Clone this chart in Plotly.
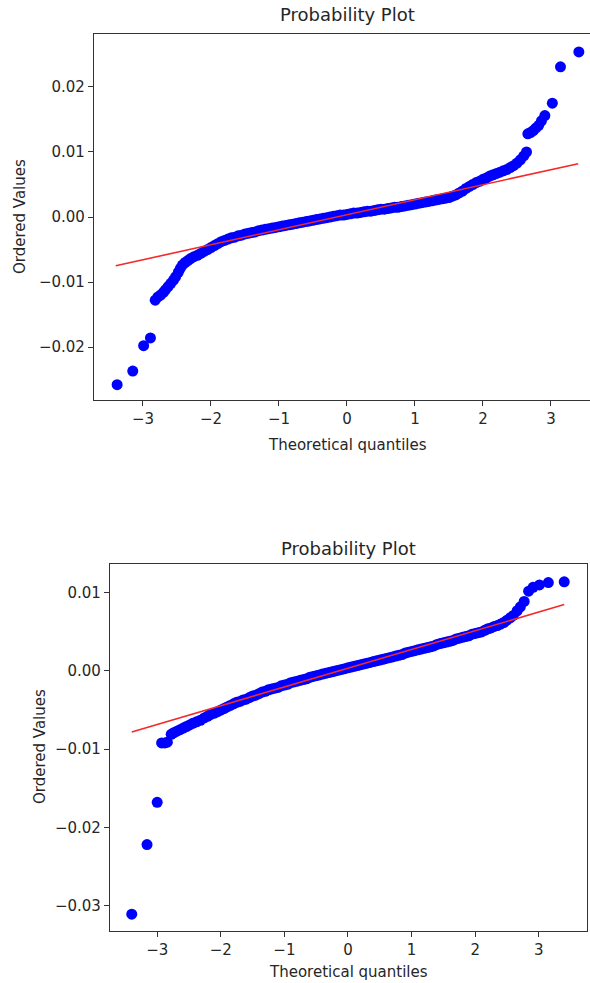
import plotly.graph_objects as go

# ---------------- data: top probability plot ----------------
top_q = [-3.38, -3.15, -2.99, -2.89,
         -2.82, -2.78, -2.74, -2.70, -2.67, -2.63, -2.59, -2.55, -2.52, -2.48,
         -2.45, -2.42, -2.38, -2.34, -2.30, -2.25, -2.20, -2.15, -2.10, -2.05,
         -2.00, -1.95, -1.90, -1.85, -1.80, -1.75, -1.70, -1.65, -1.60, -1.55,
         -1.50, -1.45, -1.40, -1.35, -1.30, -1.25, -1.20, -1.15, -1.10, -1.05,
         -1.00, -0.95, -0.90, -0.85, -0.80, -0.75, -0.70, -0.65, -0.60, -0.55,
         -0.50, -0.45, -0.40, -0.35, -0.30, -0.25, -0.20, -0.15, -0.10, -0.05,
         0.00, 0.05, 0.10, 0.15, 0.20, 0.25, 0.30, 0.35, 0.40, 0.45,
         0.50, 0.55, 0.60, 0.65, 0.70, 0.75, 0.80, 0.85, 0.90, 0.95,
         1.00, 1.05, 1.10, 1.15, 1.20, 1.25, 1.30, 1.35, 1.40, 1.45,
         1.50, 1.55, 1.60, 1.65, 1.70, 1.75, 1.80, 1.85, 1.90, 1.95,
         2.00, 2.05, 2.10, 2.15, 2.20, 2.25, 2.30, 2.35, 2.40, 2.45,
         2.50, 2.55, 2.60, 2.64,
         2.66, 2.70, 2.74, 2.78, 2.82, 2.86, 2.91, 3.02, 3.14, 3.41]
top_v = [-0.0258, -0.0237, -0.0198, -0.0186,
         -0.0128, -0.0123, -0.0120, -0.0116, -0.0112, -0.0107, -0.0102, -0.0097, -0.0092, -0.0085,
         -0.0079, -0.0074, -0.0070, -0.0067, -0.0064, -0.0061, -0.0059, -0.0056, -0.0053, -0.0050,
         -0.0047, -0.0044, -0.0041, -0.0038, -0.0036, -0.0034, -0.0032, -0.0031, -0.0029, -0.0028,
         -0.0026, -0.0025, -0.0024, -0.0023, -0.0021, -0.0020, -0.0019, -0.0018, -0.0017, -0.0016,
         -0.0015, -0.0014, -0.0013, -0.0012, -0.0011, -0.0010, -0.0009, -0.0008, -0.0007, -0.0006,
         -0.0005, -0.0004, -0.0003, -0.0002, -0.0001, 0.0000, 0.0001, 0.0002, 0.0003, 0.0003,
         0.0004, 0.0005, 0.0006, 0.0006, 0.0007, 0.0008, 0.0009, 0.0009, 0.0010, 0.0011,
         0.0012, 0.0012, 0.0013, 0.0014, 0.0015, 0.0015, 0.0016, 0.0017, 0.0018, 0.0019,
         0.0020, 0.0021, 0.0022, 0.0023, 0.0024, 0.0025, 0.0026, 0.0027, 0.0028, 0.0029,
         0.0030, 0.0032, 0.0034, 0.0037, 0.0040, 0.0044, 0.0047, 0.0050, 0.0053, 0.0055,
         0.0058, 0.0060, 0.0063, 0.0065, 0.0067, 0.0069, 0.0071, 0.0073, 0.0076, 0.0079,
         0.0083, 0.0088, 0.0094, 0.0100,
         0.0128, 0.0130, 0.0133, 0.0137, 0.0141, 0.0148, 0.0156, 0.0175, 0.0231, 0.0254]
top_fit_q = [-3.40, 3.40]
top_fit_v = [-0.0075, 0.0082]

# ---------------- data: bottom probability plot ----------------
bot_q = [-3.40, -3.16, -3.00,
         -2.93, -2.88, -2.84, -2.78, -2.74, -2.69, -2.64, -2.59, -2.54, -2.49,
         -2.44, -2.38, -2.32, -2.26, -2.21, -2.17, -2.10, -2.05, -2.00, -1.95,
         -1.90, -1.85, -1.80, -1.75, -1.70, -1.65, -1.60, -1.55, -1.50, -1.45,
         -1.40, -1.35, -1.30, -1.25, -1.20, -1.15, -1.10, -1.05, -1.00, -0.95,
         -0.90, -0.85, -0.80, -0.75, -0.70, -0.65, -0.60, -0.55, -0.50, -0.45,
         -0.40, -0.35, -0.30, -0.25, -0.20, -0.15, -0.10, -0.05, 0.00, 0.05,
         0.10, 0.15, 0.20, 0.25, 0.30, 0.35, 0.40, 0.45, 0.50, 0.55,
         0.60, 0.65, 0.70, 0.75, 0.80, 0.85, 0.90, 0.95, 1.00, 1.05,
         1.10, 1.15, 1.20, 1.25, 1.30, 1.35, 1.40, 1.45, 1.50, 1.55,
         1.60, 1.65, 1.70, 1.75, 1.80, 1.85, 1.90, 1.95, 2.00, 2.05,
         2.10, 2.15, 2.20, 2.25, 2.30, 2.35, 2.40, 2.45, 2.50, 2.55,
         2.60, 2.66, 2.71, 2.77, 2.84, 2.91, 3.01, 3.15, 3.40]
bot_v = [-0.0311, -0.0222, -0.0168,
         -0.0092, -0.0092, -0.0091, -0.0081, -0.0079, -0.0077, -0.0075, -0.0073, -0.0071, -0.0069,
         -0.0067, -0.0065, -0.0063, -0.0060, -0.0058, -0.0056, -0.0054, -0.0052, -0.0050, -0.0048,
         -0.0046, -0.0044, -0.0042, -0.0040, -0.0039, -0.0037, -0.0036, -0.0034, -0.0032, -0.0031,
         -0.0029, -0.0027, -0.0026, -0.0024, -0.0023, -0.0022, -0.0021, -0.0019, -0.0018, -0.0017,
         -0.0015, -0.0014, -0.0013, -0.0012, -0.0011, -0.0010, -0.0008, -0.0007, -0.0006, -0.0005,
         -0.0004, -0.0003, -0.0002, -0.0001, 0.0000, 0.0001, 0.0002, 0.0003, 0.0004, 0.0005,
         0.0006, 0.0007, 0.0008, 0.0009, 0.0010, 0.0011, 0.0012, 0.0013, 0.0014, 0.0015,
         0.0016, 0.0017, 0.0018, 0.0019, 0.0020, 0.0021, 0.0023, 0.0024, 0.0025, 0.0026,
         0.0027, 0.0028, 0.0029, 0.0030, 0.0031, 0.0032, 0.0034, 0.0035, 0.0036, 0.0037,
         0.0038, 0.0039, 0.0041, 0.0042, 0.0043, 0.0044, 0.0045, 0.0047, 0.0048, 0.0049,
         0.0050, 0.0052, 0.0054, 0.0055, 0.0057, 0.0058, 0.0060, 0.0062, 0.0065, 0.0068,
         0.0071, 0.0077, 0.0082, 0.0089, 0.0102, 0.0107, 0.0110, 0.0113, 0.0114]
bot_fit_q = [-3.40, 3.40]
bot_fit_v = [-0.0078, 0.0085]

# ---------------- tick labels ----------------
x_ticks = [-3, -2, -1, 0, 1, 2, 3]
x_ticktext = ["\u22123", "\u22122", "\u22121", "0", "1", "2", "3"]
top_y_ticks = [-0.02, -0.01, 0.0, 0.01, 0.02]
top_y_ticktext = ["\u22120.02", "\u22120.01", "0.00", "0.01", "0.02"]
bot_y_ticks = [-0.03, -0.02, -0.01, 0.0, 0.01]
bot_y_ticktext = ["\u22120.03", "\u22120.02", "\u22120.01", "0.00", "0.01"]

TITLE = "Probability Plot"
XLABEL = "Theoretical quantiles"
YLABEL = "Ordered Values"

# ---------------- figure ----------------
W, H = 590, 983
FONT = "DejaVu Sans"
TXT = "#262626"
AX = "#333333"
BLUE = "#0000ff"
RED = "#f22a2a"

fig = go.Figure()
fig.add_trace(go.Scatter(x=top_q, y=top_v, mode="markers", xaxis="x", yaxis="y",
                         marker=dict(color=BLUE, size=11, line=dict(width=0))))
fig.add_trace(go.Scatter(x=top_fit_q, y=top_fit_v, mode="lines", xaxis="x", yaxis="y",
                         line=dict(color=RED, width=1.6)))
fig.add_trace(go.Scatter(x=bot_q, y=bot_v, mode="markers", xaxis="x2", yaxis="y2",
                         marker=dict(color=BLUE, size=11, line=dict(width=0))))
fig.add_trace(go.Scatter(x=bot_fit_q, y=bot_fit_v, mode="lines", xaxis="x2", yaxis="y2",
                         line=dict(color=RED, width=1.6)))


def px_x(p):
    return p / W


def px_y(p):
    return 1 - p / H


tickfont = dict(family=FONT, size=15, color=TXT)
axcommon = dict(showgrid=False, zeroline=False, showline=True, linecolor=AX, linewidth=1.2,
                ticks="outside", ticklen=5, tickwidth=1.2, tickcolor=AX, tickfont=tickfont)

fig.update_layout(
    width=W, height=H,
    margin=dict(l=0, r=0, t=0, b=0),
    paper_bgcolor="white", plot_bgcolor="white",
    showlegend=False,
    xaxis=dict(domain=[px_x(94), 1.0], range=[-3.72, 3.574], anchor="y",
               tickvals=x_ticks, ticktext=x_ticktext, mirror=True, **axcommon),
    yaxis=dict(domain=[px_y(400), px_y(34)], range=[-0.02815, 0.02815], anchor="x",
               tickvals=top_y_ticks, ticktext=top_y_ticktext, mirror=False, **axcommon),
    xaxis2=dict(domain=[px_x(110), px_x(587)], range=[-3.742, 3.758], anchor="y2",
                tickvals=x_ticks, ticktext=x_ticktext, mirror=True, **axcommon),
    yaxis2=dict(domain=[px_y(931), px_y(564)], range=[-0.03325, 0.01368], anchor="x2",
                tickvals=bot_y_ticks, ticktext=bot_y_ticktext, mirror=True, **axcommon),
)

ann = []
for (x, y, text, size, angle) in [
    (347, 15, TITLE, 18, 0),
    (347, 445, XLABEL, 15, 0),
    (20, 217, YLABEL, 15, -90),
    (348, 548, TITLE, 18, 0),
    (348, 972, XLABEL, 15, 0),
    (40, 747, YLABEL, 15, -90),
]:
    ann.append(dict(x=px_x(x), y=px_y(y), xref="paper", yref="paper", text=text,
                    showarrow=False, textangle=angle, xanchor="center", yanchor="middle",
                    font=dict(family=FONT, size=size, color=TXT)))
fig.update_layout(annotations=ann)

fig.write_html(
    "out.html",
    config={"displayModeBar": False},
    post_script="document.body.style.margin='0';document.body.style.overflow='hidden';",
)
